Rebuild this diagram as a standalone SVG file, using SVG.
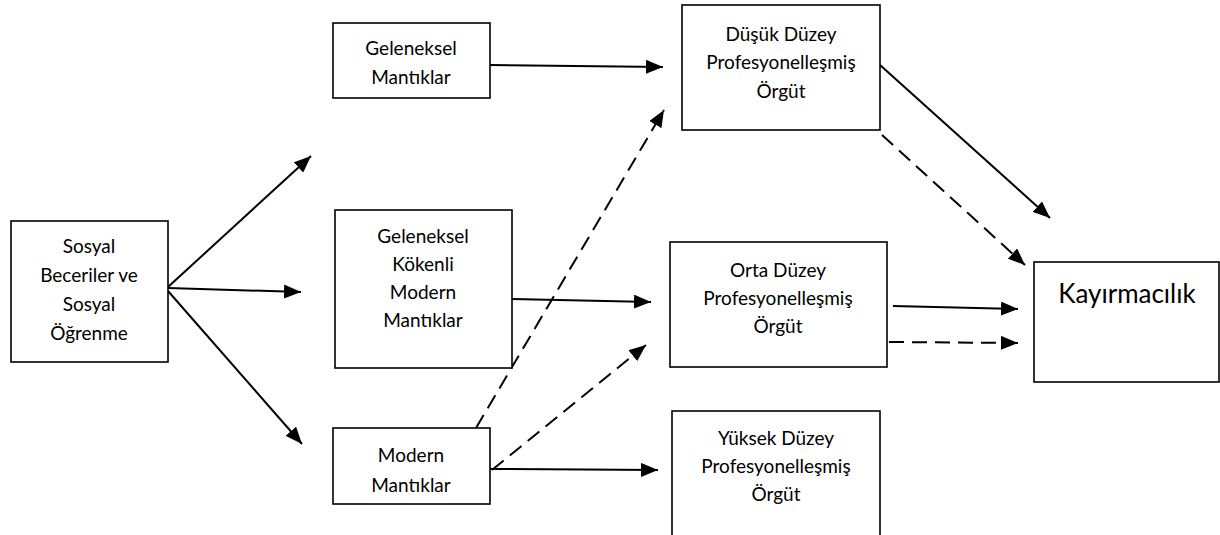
<svg xmlns="http://www.w3.org/2000/svg" width="1220" height="535" viewBox="0 0 1220 535">
<style>
.box{fill:#fff;stroke:#000;stroke-width:1.6}
.t{font-family:"Lato","Liberation Sans",sans-serif;font-size:19px;fill:#000;text-anchor:middle}
.big{font-size:26px}
.c{stroke:#000;stroke-width:2;fill:none;marker-end:url(#ah)}
.d{stroke-dasharray:15 8}
</style>
<defs>
<marker id="ah" markerUnits="userSpaceOnUse" markerWidth="18" markerHeight="14" refX="17" refY="7" orient="auto">
<path d="M0,0 L17,7 L0,14 z" fill="#000"/>
</marker>
</defs>
<g id="connectors">
<line class="c" x1="168" y1="287" x2="311" y2="156"/>
<line class="c" x1="168" y1="288" x2="301" y2="292"/>
<line class="c" x1="168" y1="291" x2="302" y2="444"/>
<line class="c" x1="490" y1="65" x2="663" y2="67"/>
<line class="c" x1="512" y1="299" x2="651" y2="302"/>
<line class="c" x1="490" y1="469" x2="658" y2="470"/>
<line class="c d" x1="476" y1="428" x2="664" y2="110"/>
<line class="c d" x1="492" y1="470" x2="646" y2="345"/>
<line class="c" x1="880" y1="65" x2="1050" y2="218"/>
<line class="c d" x1="882" y1="135" x2="1025" y2="265"/>
<line class="c" x1="893" y1="306" x2="1018" y2="309"/>
<line class="c d" x1="889" y1="342" x2="1018" y2="343"/>
</g>
<g id="n-sosyal">
<rect class="box" x="11" y="221" width="157" height="141"/>
<text class="t" x="89" y="253">Sosyal</text>
<text class="t" x="89" y="282">Beceriler ve</text>
<text class="t" x="89" y="311">Sosyal</text>
<text class="t" x="89" y="340">Öğrenme</text>
</g>
<g id="n-geleneksel">
<rect class="box" x="333" y="23" width="157" height="75"/>
<text class="t" x="411" y="55">Geleneksel</text>
<text class="t" x="411" y="84">Mantıklar</text>
</g>
<g id="n-gkm">
<rect class="box" x="335" y="210" width="177" height="158"/>
<text class="t" x="423" y="243">Geleneksel</text>
<text class="t" x="423" y="271">Kökenli</text>
<text class="t" x="423" y="299">Modern</text>
<text class="t" x="423" y="327">Mantıklar</text>
</g>
<g id="n-modern">
<rect class="box" x="333" y="428" width="157" height="76"/>
<text class="t" x="411" y="462">Modern</text>
<text class="t" x="411" y="492">Mantıklar</text>
</g>
<g id="n-dusuk">
<rect class="box" x="682" y="5" width="198" height="125"/>
<text class="t" x="781" y="41">Düşük Düzey</text>
<text class="t" x="781" y="69">Profesyonelleşmiş</text>
<text class="t" x="781" y="98">Örgüt</text>
</g>
<g id="n-orta">
<rect class="box" x="670" y="242" width="217" height="125"/>
<text class="t" x="778" y="277">Orta Düzey</text>
<text class="t" x="778" y="305">Profesyonelleşmiş</text>
<text class="t" x="778" y="333">Örgüt</text>
</g>
<g id="n-yuksek">
<rect class="box" x="672" y="411" width="208" height="130"/>
<text class="t" x="776" y="445">Yüksek Düzey</text>
<text class="t" x="776" y="473">Profesyonelleşmiş</text>
<text class="t" x="776" y="501">Örgüt</text>
</g>
<g id="n-kayirmacilik">
<rect class="box" x="1034" y="262" width="185" height="120"/>
<text class="t big" x="1127" y="303">Kayırmacılık</text>
</g>
</svg>
